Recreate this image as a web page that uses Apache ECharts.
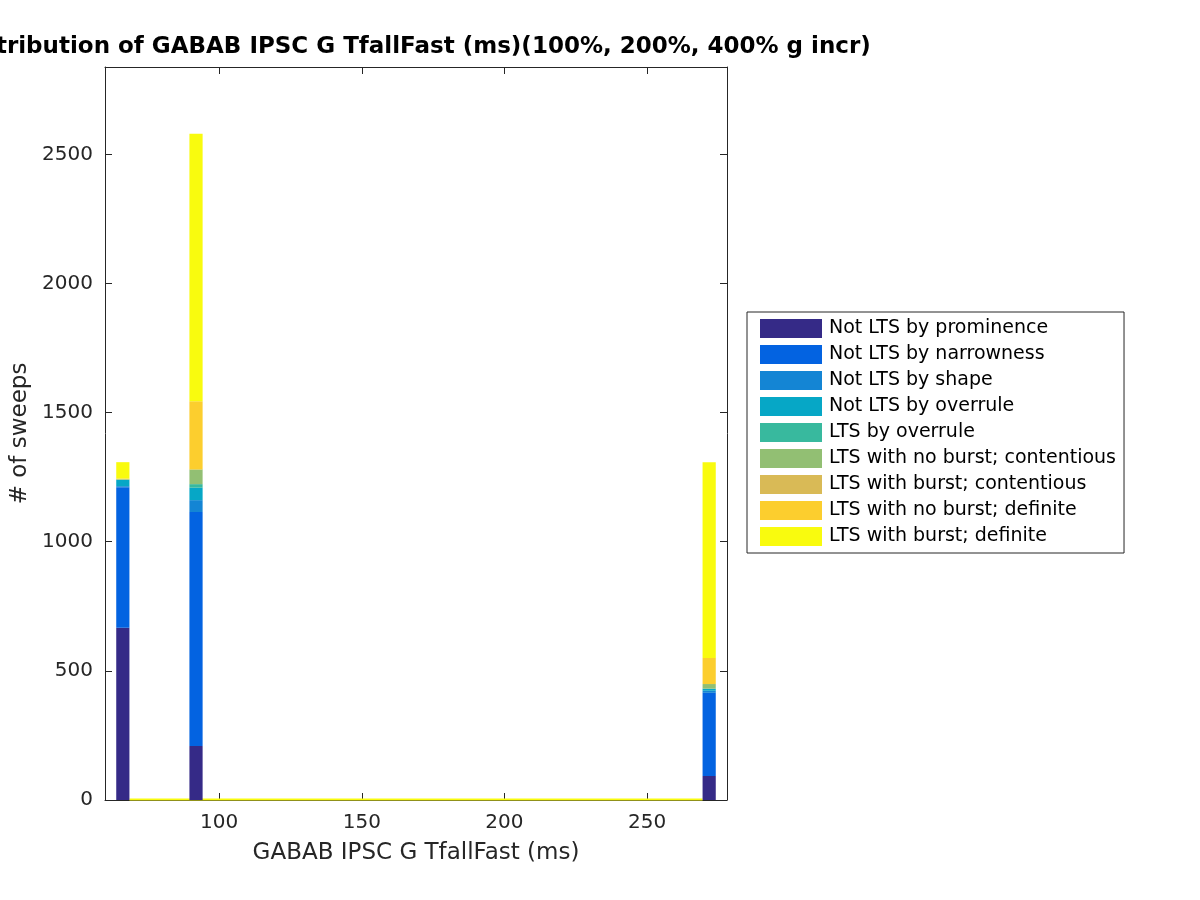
<!DOCTYPE html>
<html>
<head>
<meta charset="utf-8">
<script src="https://cdn.jsdelivr.net/npm/echarts@6/dist/echarts.min.js"></script>
<style>html,body{margin:0;padding:0;background:#fff}#chart{width:1200px;height:900px}</style>
</head>
<body>
<div id="chart"></div>
<script>
// ---- data ----
var binCenters = [66.25, 91.9, 271.75];
var binWidth = 5.1375;
var seriesNames = [
  'Not LTS by prominence',
  'Not LTS by narrowness',
  'Not LTS by shape',
  'Not LTS by overrule',
  'LTS by overrule',
  'LTS with no burst; contentious',
  'LTS with burst; contentious',
  'LTS with no burst; definite',
  'LTS with burst; definite'
];
var notLtsProminence = [667, 209, 93];
var notLtsNarrowness = [544, 906, 322];
var notLtsShape = [4, 46, 8];
var notLtsOverrule = [26, 48, 8];
var ltsOverrule = [0, 14, 0];
var ltsNoBurstContentious = [0, 57, 18];
var ltsBurstContentious = [0, 0, 0];
var ltsNoBurstDefinite = [4, 264, 101];
var ltsBurstDefinite = [63, 1036, 758];
var xTicks = [100, 150, 200, 250];
var yTicks = [0, 500, 1000, 1500, 2000, 2500];

var counts = [notLtsProminence, notLtsNarrowness, notLtsShape, notLtsOverrule, ltsOverrule,
  ltsNoBurstContentious, ltsBurstContentious, ltsNoBurstDefinite, ltsBurstDefinite];
var colors = ['#352a87', '#0363e1', '#1485d4', '#06a7c6', '#38b99e', '#92bf73', '#d9ba56', '#fcce2e', '#f9fb0e'];

var font = 'DejaVu Sans';
var textColor = '#262626';
var barFrac = 0.9;

var cum = binCenters.map(function () { return 0; });
var series = counts.map(function (arr, si) {
  var data = arr.map(function (v, i) {
    var b = cum[i];
    cum[i] += v;
    return [binCenters[i], b, cum[i]];
  });
  return {
    name: seriesNames[si],
    type: 'custom',
    itemStyle: { color: colors[si] },
    encode: { x: 0, y: [1, 2] },
    z: 3,
    renderItem: function (params, api) {
      var c = api.value(0), lo = api.value(1), hi = api.value(2);
      if (hi - lo <= 0) return null;
      var p1 = api.coord([c - binWidth * barFrac / 2, hi]);
      var p2 = api.coord([c + binWidth * barFrac / 2, lo]);
      return {
        type: 'rect',
        shape: { x: p1[0], y: p1[1], width: p2[0] - p1[0], height: p2[1] - p1[1] },
        style: { fill: colors[si] }
      };
    },
    data: data
  };
});

// zero-height bins between first and last bin, drawn as a baseline in the top colour
series.push({
  name: 'zeroBins',
  type: 'custom',
  z: 2,
  silent: true,
  renderItem: function (params, api) {
    var a = api.coord([binCenters[0] + binWidth * barFrac / 2, 0]);
    var b = api.coord([binCenters[binCenters.length - 1] - binWidth * barFrac / 2, 0]);
    return {
      type: 'line',
      shape: { x1: a[0], y1: a[1] - 0.5, x2: b[0], y2: b[1] - 0.5 },
      style: { stroke: colors[colors.length - 1], lineWidth: 2 }
    };
  },
  data: [[0, 0]]
});

var chart = echarts.init(document.getElementById('chart'));
var frameLine = { show: true, onZero: false, lineStyle: { color: textColor, width: 1 } };
var plain = function (v) { return String(v); };
chart.setOption({
  animation: false,
  backgroundColor: '#ffffff',
  graphic: [{
    type: 'text',
    x: 413, y: 47,
    style: {
      text: 'Distribution of GABAB IPSC G TfallFast (ms)(100%, 200%, 400% g incr)',
      font: 'bold 23px "DejaVu Sans"',
      fill: '#000000',
      textAlign: 'center',
      textVerticalAlign: 'middle'
    }
  }],
  grid: { left: 105, right: 473, top: 67, bottom: 100 },
  legend: {
    orient: 'vertical',
    left: 747, top: 312,
    padding: [7, 8, 7, 13],
    itemWidth: 62, itemHeight: 19, itemGap: 7,
    borderColor: textColor, borderWidth: 1,
    icon: 'rect',
    textStyle: { fontFamily: font, fontSize: 19, lineHeight: 19, color: '#000', padding: [0, 0, 0, 2] },
    data: seriesNames.map(function (n, i) { return { name: n, itemStyle: { color: colors[i] } }; })
  },
  xAxis: [{
    type: 'value', min: 60, max: 278,
    name: 'GABAB IPSC G TfallFast (ms)', nameLocation: 'middle', nameGap: 42,
    nameTextStyle: { fontFamily: font, fontSize: 23, color: textColor },
    axisLine: frameLine,
    axisTick: { show: true, inside: true, length: 7, customValues: xTicks, lineStyle: { color: textColor } },
    axisLabel: { customValues: xTicks, formatter: plain, fontFamily: font, fontSize: 20, color: textColor, margin: 13 },
    splitLine: { show: false }
  }, {
    type: 'value', min: 60, max: 278, position: 'top',
    axisLine: frameLine,
    axisTick: { show: true, inside: true, length: 7, customValues: xTicks, lineStyle: { color: textColor } },
    axisLabel: { show: false },
    splitLine: { show: false }
  }],
  yAxis: [{
    type: 'value', min: 0, max: 2838,
    name: '# of sweeps', nameLocation: 'middle', nameGap: 65,
    nameTextStyle: { fontFamily: font, fontSize: 23, color: textColor },
    axisLine: frameLine,
    axisTick: { show: true, inside: true, length: 7, customValues: yTicks, lineStyle: { color: textColor } },
    axisLabel: { customValues: yTicks, formatter: plain, fontFamily: font, fontSize: 20, color: textColor, margin: 12 },
    splitLine: { show: false }
  }, {
    type: 'value', min: 0, max: 2838, position: 'right',
    axisLine: frameLine,
    axisTick: { show: true, inside: true, length: 7, customValues: yTicks, lineStyle: { color: textColor } },
    axisLabel: { show: false },
    splitLine: { show: false }
  }],
  series: series
});
</script>
</body>
</html>
